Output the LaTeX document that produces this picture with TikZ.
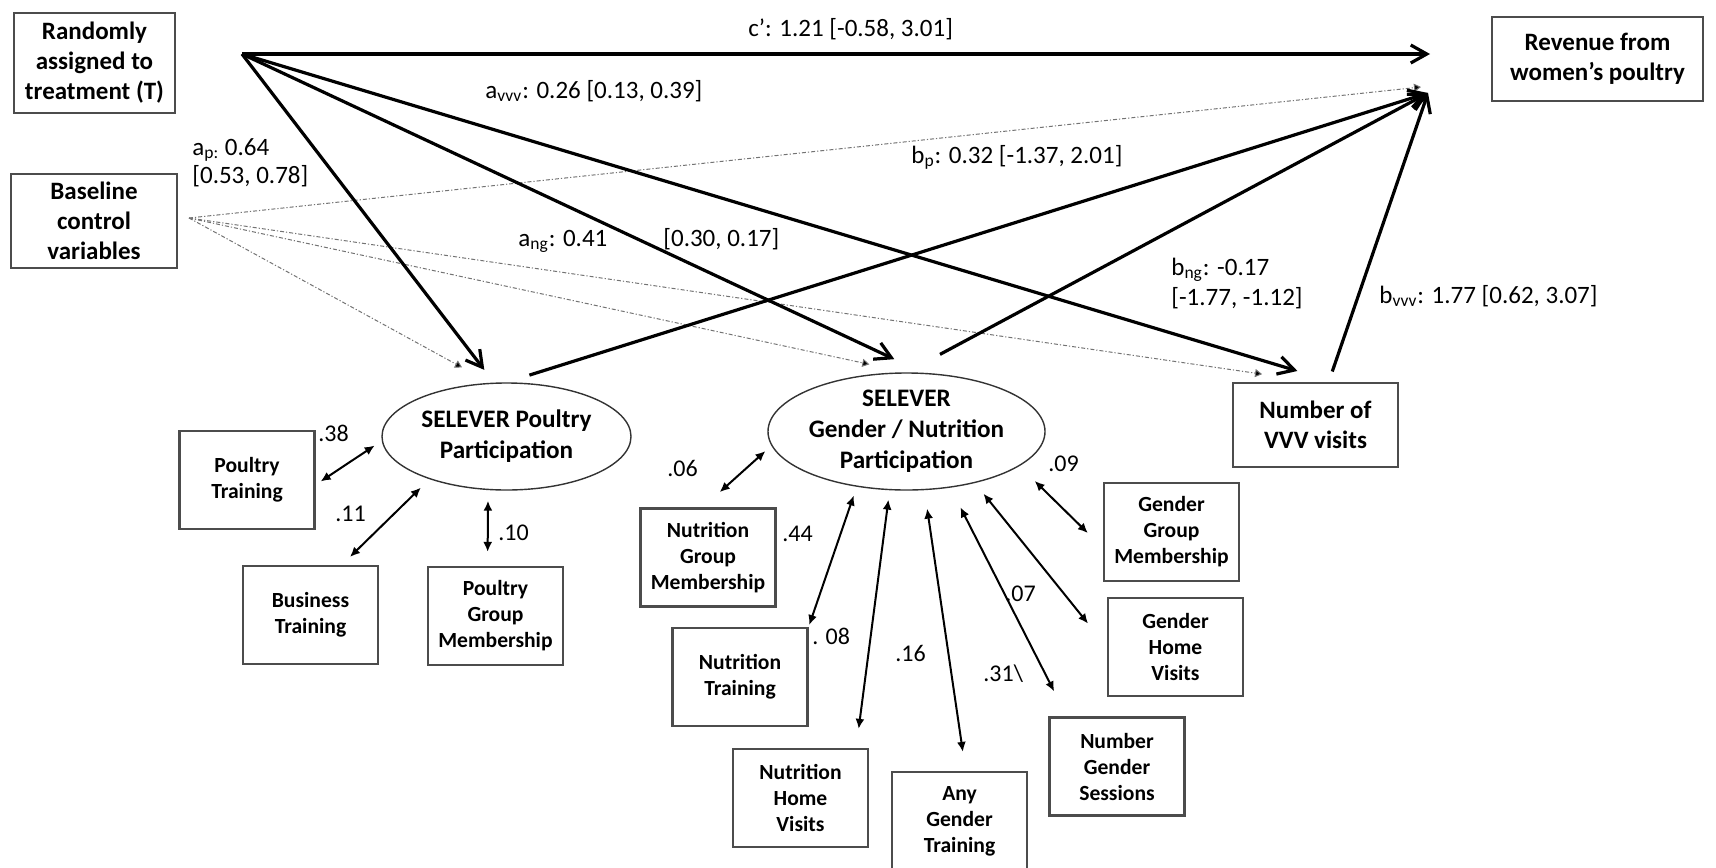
\documentclass[tikz,border=0pt]{standalone}
\usepackage{fontspec}
\setmainfont{Carlito}
\usetikzlibrary{arrows.meta,shapes.geometric}
\begin{document}
\begin{tikzpicture}[x=0.5pt,y=-0.5pt,
  bigbox/.style={draw=black!70, line width=1.1pt, align=center, font=\bfseries\fontsize{12.5}{15}\selectfont, inner sep=0pt},
  indbox/.style={draw=black!70, line width=1.1pt, align=center, font=\bfseries\fontsize{10.8}{13}\selectfont, inner sep=0pt, minimum width=67.5pt, minimum height=49pt},
  latent/.style={draw=black!80, ellipse, line width=0.7pt, align=center, font=\bfseries\fontsize{12.6}{15.5}\selectfont, inner sep=0pt},
  lbl/.style={font=\fontsize{12.5}{14}\selectfont, anchor=base west, inner sep=0pt, align=left},
  num/.style={font=\fontsize{12}{14}\selectfont, anchor=base west, inner sep=0pt},
  mainarr/.style={line width=1.6pt, -{Straight Barb[length=8pt,width=9pt]}},
  cov/.style={line width=1pt, {Latex[length=5pt,width=4.5pt]}-{Latex[length=5pt,width=4.5pt]}},
  ctrl/.style={draw=black!55, line width=0.5pt, dash pattern=on 2pt off 1pt on 0.6pt off 1pt, -{Triangle[length=3.5pt,width=4pt,fill=black]}}
]
\useasboundingbox (0,0) rectangle (1716,867);

% boxes
\node[bigbox, minimum width=80.5pt, minimum height=50pt] (T) at (94.5,63) {Randomly\\assigned to\\treatment (T)};
\node[bigbox, minimum width=83pt, minimum height=47pt] (B) at (94,221) {Baseline\\control\\variables};
\node[bigbox, minimum width=105.5pt, minimum height=42pt] (R) at (1597.5,59) {Revenue from\\women’s poultry};
\node[bigbox, minimum width=82.5pt, minimum height=42pt] (V) at (1315.5,425) {Number of\\VVV visits};
\node[latent, minimum width=124.5pt, minimum height=53.5pt] (P) at (506.5,436.5) {SELEVER Poultry\\Participation};
\node[latent, minimum width=138.5pt, minimum height=58.5pt] (G) at (906.5,431.5) {SELEVER\\Gender / Nutrition\\Participation};

\node[indbox] (PT) at (247,480) {Poultry\\Training};
\node[indbox] (BT) at (310.5,615) {Business\\Training};
\node[indbox] (PGM) at (495.5,616) {Poultry\\Group\\Membership};
\node[indbox] (NGM) at (708,557.5) {Nutrition\\Group\\Membership};
\node[indbox] (NT) at (740,677) {Nutrition\\Training};
\node[indbox] (NHV) at (800.5,798) {Nutrition\\Home\\Visits};
\node[indbox] (AGT) at (959.5,821) {Any\\Gender\\Training};
\node[indbox] (NGS) at (1117,766.5) {Number\\Gender\\Sessions};
\node[indbox] (GHV) at (1175.5,647) {Gender\\Home\\Visits};
\node[indbox] (GGM) at (1171.5,532) {Gender\\Group\\Membership};

% junction points
\coordinate (To) at (242,54);
\coordinate (Bo) at (189,218);
\coordinate (Rc) at (1430,54);
\coordinate (Rb) at (1428,93);
\coordinate (Rd) at (1421,87);

% control paths
\draw[ctrl] (Bo) -- (Rd);
\draw[ctrl, shorten >=16pt] (Bo) -- (P.107);
\draw[ctrl, shorten >=19pt] (Bo) -- (G.north);
\draw[ctrl, shorten >=27pt] (Bo) -- (V.north);

% main paths
\draw[mainarr] (To) -- (Rc);
\draw[mainarr, shorten >=8pt] (To) -- (P.103);
\draw[mainarr, shorten >=16pt] (To) -- (G.74);
\draw[mainarr, shorten >=19pt] (To) -- (V.67);
\draw[mainarr, shorten <=12pt] (P.north) -- (Rb);
\draw[mainarr, shorten <=19pt] (G.north) -- (Rb);
\draw[mainarr, shorten <=5.5pt] (V.73) -- (Rb);

% loadings
\draw[cov, shorten <=3pt, shorten >=4.2pt] (PT.356) -- (P.182);
\draw[cov, shorten <=5.7pt, shorten >=6pt] (BT.58) -- (P.209);
\draw[cov, shorten <=7pt, shorten >=5.3pt] (PGM.99) -- (P.251);
\draw[cov, shorten <=11.4pt, shorten >=4pt] (NGM.96) -- (G.186);
\draw[cov, shorten <=1pt, shorten >=4.6pt] (NT.north east) -- (G.228);
\draw[cov, shorten <=9.6pt, shorten >=4.7pt] (NHV.42) -- (G.254);
\draw[cov, shorten <=9.6pt, shorten >=9.3pt] (AGT.83) -- (G.287);
\draw[cov, shorten <=14pt, shorten >=11pt] (NGS.135) -- (G.308);
\draw[cov, shorten <=15pt, shorten >=6.8pt] (GHV.west) -- (G.323);
\draw[cov, shorten <=10.5pt, shorten >=10.6pt] (GGM.193) -- (G.343);

% labels
\node[lbl] (lc) at (748,36) {c’: 1.21 [-0.58, 3.01]};
\node[lbl] (lavvv) at (485,98) {a\textsubscript{vvv}: 0.26 [0.13, 0.39]};
\node[lbl] (lap) at (192,183) {a\textsubscript{p:} 0.64\\{}[0.53, 0.78]};
\node[lbl] (lang) at (518,246) {a\textsubscript{ng}: 0.41};
\node[lbl] (langci) at (663,246) {{}[0.30, 0.17]};
\node[lbl] (lbp) at (911,163) {b\textsubscript{p}: 0.32 [-1.37, 2.01]};
\node[lbl, font=\fontsize{12.5}{15}\selectfont] (lbng) at (1171,305) {b\textsubscript{ng}: -0.17\\{}[-1.77, -1.12]};
\node[lbl] (lbvvv) at (1379,303) {b\textsubscript{vvv}: 1.77 [0.62, 3.07]};

\node[num] (n38) at (318,441) {.38};
\node[num] (n11) at (335,521) {.11};
\node[num] (n10) at (498,540) {.10};
\node[num] (n06) at (667,476) {.06};
\node[num] (n44) at (782,541) {.44};
\node[num] (n08) at (812,644) {. 08};
\node[num] (n16) at (895,661) {.16};
\node[num] (n31) at (983,681) {.31\textbackslash};
\node[num] (n07) at (1005,601) {.07};
\node[num] (n09) at (1048,471) {.09};
\end{tikzpicture}
\end{document}
